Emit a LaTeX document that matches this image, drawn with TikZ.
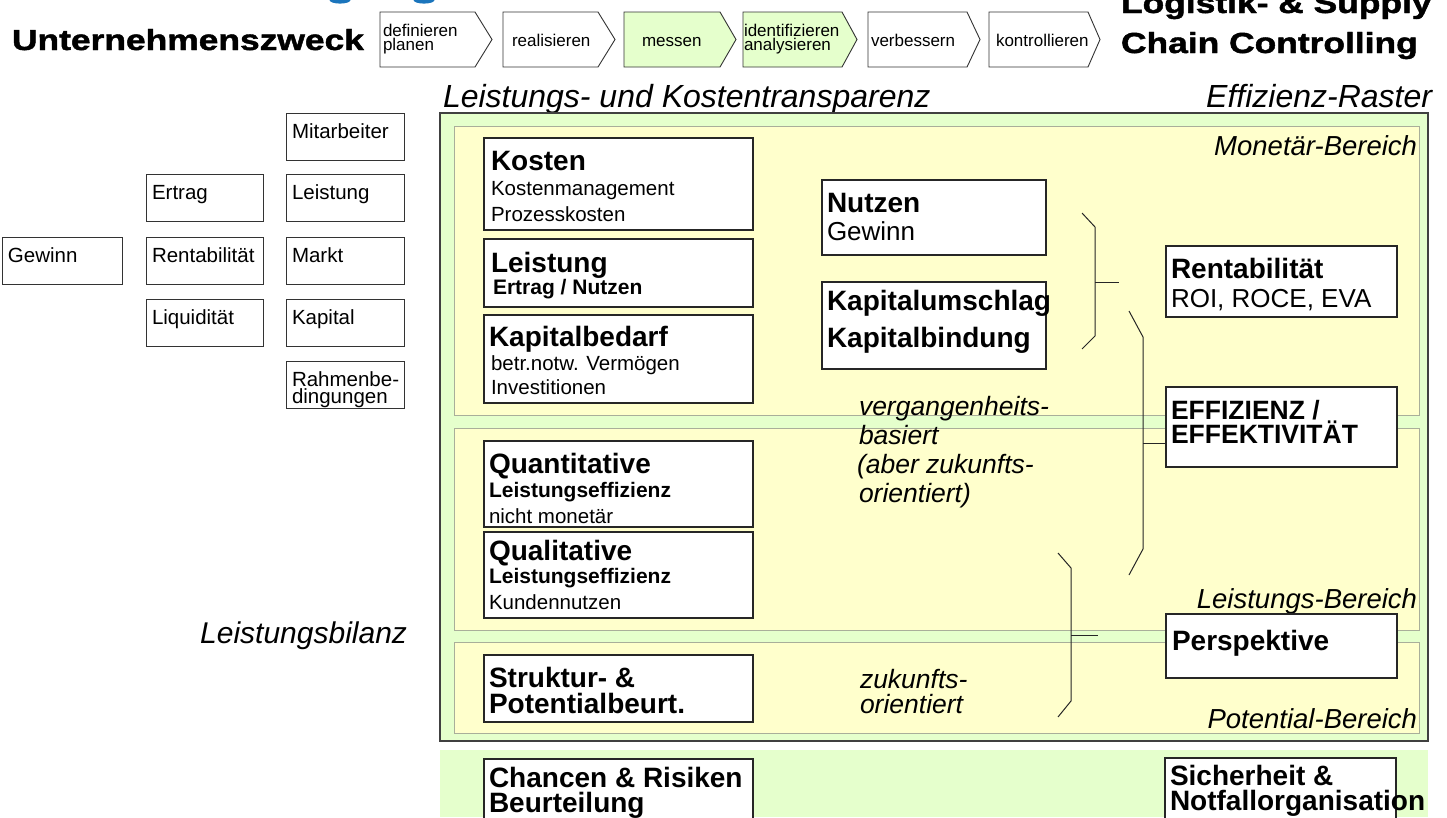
\documentclass[tikz,border=0pt]{standalone}
\usepackage{fontspec}
\usepackage{graphicx}
\setmainfont{Liberation Sans}
\newfontfamily\heavyfont[FakeBold=1.4]{Liberation Sans Bold}
\usetikzlibrary{calc}
\definecolor{panelgreen}{HTML}{E5FFCC}
\definecolor{areayellow}{HTML}{FFFFCC}
\definecolor{areaedge}{HTML}{A9AE9A}
\definecolor{titleblue}{HTML}{1B75BC}
\newcommand\fs[2]{\fontsize{#1}{#2}\selectfont}
\newcommand\wide[1]{\scalebox{1.22}[1]{\fs{29}{29}\heavyfont #1}}
% two lines stacked at a fixed baseline distance, anchored on the first baseline
\newcommand\twolines[3]{\vtop{\baselineskip=#1\lineskiplimit=-100pt\hbox{#2}\hbox{#3}}}
% small framed term box on the left, text in the upper left corner
\newcommand\lbox[5]{%
  \node[smallbox,minimum width=#4] (#1) at (#2,#3) {};
  \node[lbl,sub] (#1-t) at (#2+6,#3+25) {#5};}
\begin{document}
\begin{tikzpicture}[x=1pt,y=-1pt,
  every node/.style={inner sep=0pt,outer sep=0pt},
  lbl/.style={anchor=base west},
  rlbl/.style={anchor=base east},
  box/.style={draw=black!85,line width=1.1pt,fill=white,anchor=north west},
  smallbox/.style={draw=black!80,line width=1pt,fill=white,anchor=north west,minimum height=47pt},
  chev/.style={draw=black!80,line width=0.9pt,fill=white,line join=miter},
  chevon/.style={chev,fill=panelgreen},
  chevtxt/.style={lbl,font=\fs{17}{14}},
  area/.style={draw=areaedge,line width=0.8pt,fill=areayellow},
  brk/.style={draw=black!85,line width=1pt},
  hd/.style={font=\fs{28}{28}\bfseries},
  sub/.style={font=\fs{20.5}{20.5}},
  subb/.style={font=\fs{21}{21}\bfseries},
  mid/.style={font=\fs{26}{26}},
  it/.style={font=\fs{26.5}{26.5}\itshape},
  area label/.style={rlbl,font=\fs{27.5}{27.5}\itshape},
  big label/.style={font=\fs{32}{32}\itshape}]

\useasboundingbox (0,0) rectangle (1447,817);
\fill[white] (0,0) rectangle (1447,817);

% descenders of the blue heading above the frame
\fill[titleblue] (340,0) ellipse [x radius=10.5, y radius=3.6];
\fill[titleblue] (424,0) ellipse [x radius=10.5, y radius=3.6];

% headings
\node[lbl] (zweck) at (12,50) {\wide{Unternehmenszweck}};
\node[lbl] (lsc) at (1121,13) {\twolines{40pt}{\wide{Logistik- \& Supply}}{\wide{Chain Controlling}}};

% process chevrons
\draw[chev] (380,12) -- (475,12) -- (492,39.5) -- (475,67) -- (380,67) -- cycle;
\node[chevtxt] (c1) at (383,36) {\twolines{14pt}{definieren}{planen}};
\draw[chev] (503,12) -- (598,12) -- (615,39.5) -- (598,67) -- (503,67) -- cycle;
\node[chevtxt] (c2) at (512,46.5) {realisieren};
\draw[chevon] (624,12) -- (720,12) -- (736,39.5) -- (720,67) -- (624,67) -- cycle;
\node[chevtxt] (c3) at (642,46.5) {messen};
\draw[chevon] (743,12) -- (842,12) -- (857,39.5) -- (842,67) -- (743,67) -- cycle;
\node[chevtxt] (c4) at (744,36) {\twolines{14pt}{identifizieren}{analysieren}};
\draw[chev] (868,12) -- (967,12) -- (980,39.5) -- (967,67) -- (868,67) -- cycle;
\node[chevtxt] (c5) at (871,46.5) {verbessern};
\draw[chev] (989,12) -- (1088,12) -- (1100,39.5) -- (1088,67) -- (989,67) -- cycle;
\node[chevtxt] (c6) at (996,46.5) {kontrollieren};

% goal terms on the left
\lbox{mitarbeiter}{286}{113}{118pt}{Mitarbeiter}
\lbox{ertrag}{146}{174}{117pt}{Ertrag}
\lbox{leist}{286}{174}{118pt}{Leistung}
\lbox{gewinn}{2}{237}{120pt}{Gewinn}
\lbox{rent}{146}{237}{117pt}{Rentabilität}
\lbox{markt}{286}{237}{118pt}{Markt}
\lbox{liqu}{146}{299}{117pt}{Liquidität}
\lbox{kapital}{286}{299}{118pt}{Kapital}
\node[smallbox,minimum width=118pt] (rahmen) at (286,361) {};
\node[lbl,sub] (rahmen-t) at (292,386) {\twolines{17pt}{Rahmenbe-}{dingungen}};

\node[rlbl,font=\fs{30}{30}\itshape] (bilanz) at (407,643) {Leistungsbilanz};

% frame headings
\node[lbl,big label] (transp) at (443,107) {Leistungs- und Kostentransparenz};
\node[rlbl,big label] (raster) at (1432,107) {Effizienz-Raster};

% frame and areas
\draw[draw=black!75,line width=1.3pt,fill=panelgreen] (440,113) rectangle (1428,741);
\fill[panelgreen] (440,750) rectangle (1428,817);
\draw[area] (454,126) rectangle (1419,415);
\draw[area] (454,428) rectangle (1419,630);
\draw[area] (454,642) rectangle (1419,733);
\node[area label] (monetaer) at (1417,155) {Monetär-Bereich};
\node[area label] (leistbereich) at (1417,608) {Leistungs-Bereich};
\node[area label] (potbereich) at (1417,728) {Potential-Bereich};

% left column of the frame
\node[box,minimum width=269pt,minimum height=92pt] (kosten) at (484,138) {};
\node[lbl,hd] (kosten-h) at (491,170) {Kosten};
\node[lbl,sub] (kosten-t) at (491,195) {\twolines{26pt}{Kostenmanagement}{Prozesskosten}};

\node[box,minimum width=269pt,minimum height=68pt] (leistung) at (484,239) {};
\node[lbl,hd] (leistung-h) at (491,272) {Leistung};
\node[lbl,subb] (leistung-t) at (493,294) {Ertrag / Nutzen};

\node[box,minimum width=269pt,minimum height=88pt] (kapbed) at (484,315) {};
\node[lbl,hd] (kapbed-h) at (489,346) {Kapitalbedarf};
\node[lbl,sub] (kapbed-t) at (491,370) {\twolines{24pt}{betr.notw. Vermögen}{Investitionen}};

\node[box,minimum width=269pt,minimum height=86pt] (quant) at (484,441) {};
\node[lbl,hd] (quant-h) at (489,473) {Quantitative};
\node[lbl,subb] (quant-s) at (489,497) {Leistungseffizienz};
\node[lbl,sub] (quant-t) at (489,523) {nicht monetär};

\node[box,minimum width=269pt,minimum height=86pt] (qual) at (484,532) {};
\node[lbl,hd] (qual-h) at (489,560) {Qualitative};
\node[lbl,subb] (qual-s) at (489,583) {Leistungseffizienz};
\node[lbl,sub] (qual-t) at (489,609) {Kundennutzen};

\node[box,minimum width=269pt,minimum height=67pt] (struktur) at (484,655) {};
\node[lbl,hd] (struktur-h) at (489,687) {\twolines{26pt}{Struktur- \&}{Potentialbeurt.}};

\node[box,minimum width=269pt,minimum height=70pt] (chancen) at (484,759) {};
\node[lbl,hd] (chancen-h) at (489,787) {\twolines{25pt}{Chancen \& Risiken}{Beurteilung}};

% middle column
\node[box,minimum width=224pt,minimum height=75pt] (nutzen) at (822,180) {};
\node[lbl,hd] (nutzen-h) at (827,212) {Nutzen};
\node[lbl,mid] (nutzen-t) at (827,240) {Gewinn};

\node[box,minimum width=224pt,minimum height=87pt] (kapum) at (822,282) {};
\node[lbl,hd] (kapum-h) at (827,310) {\twolines{37pt}{Kapitalumschlag}{Kapitalbindung}};

\node[lbl,it] (verg) at (859,415) {\vtop{\baselineskip=29.3pt\lineskiplimit=-100pt
  \hbox{vergangenheits-}\hbox{basiert}\hbox{\kern-2pt(aber zukunfts-}\hbox{orientiert)}}};
\node[lbl,it] (zuk) at (860,688) {\twolines{25pt}{zukunfts-}{orientiert}};

% right column
\node[box,minimum width=231pt,minimum height=71pt] (rentab) at (1166,246) {};
\node[lbl,hd] (rentab-h) at (1171,278) {Rentabilität};
\node[lbl,mid] (rentab-t) at (1171,307) {ROI, ROCE, EVA};

\node[box,minimum width=231pt,minimum height=80pt] (eff) at (1166,387) {};
\node[lbl,font=\fs{26.5}{26.5}\bfseries] (eff-h) at (1171,419) {\twolines{24pt}{EFFIZIENZ /}{EFFEKTIVITÄT}};

\node[box,minimum width=231pt,minimum height=64pt] (persp) at (1166,614) {};
\node[lbl,hd] (persp-h) at (1172,650) {Perspektive};

\node[box,minimum width=231pt,minimum height=70pt] (sicher) at (1165,758) {};
\node[lbl,hd] (sicher-h) at (1170,785) {\twolines{25pt}{Sicherheit \&}{Notfallorganisation}};

% brackets
\coordinate (b1m) at (1095,282);
\coordinate (b1t) at (1119,282);
\draw[brk] (1082,213) -- (1095,227) -- (1095,336) -- (1082,349);
\draw[brk] (b1m) -- (b1t);

\coordinate (b2m) at (1143,443);
\draw[brk] (1129,311) -- (1143,337) -- (1143,549) -- (1129,575);
\draw[brk] (b2m) -- (b2m -| eff.west);

\coordinate (b3m) at (1071,635);
\coordinate (b3t) at (1098,635);
\draw[brk] (1058,553) -- (1071,568) -- (1071,701) -- (1058,717);
\draw[brk] (b3m) -- (b3t);
\end{tikzpicture}
\end{document}
